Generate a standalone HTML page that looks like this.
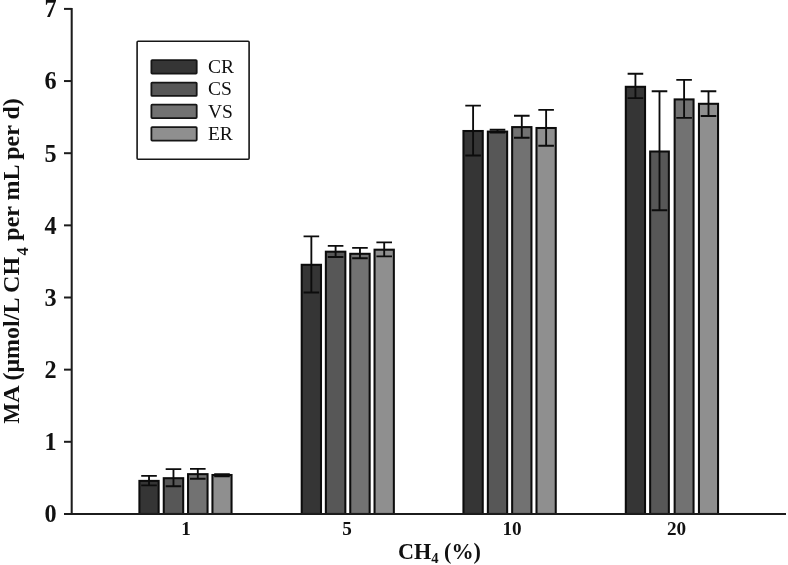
<!DOCTYPE html>
<html lang="en"><head><meta charset="utf-8"><title>MA vs CH4</title>
<style>html,body{margin:0;padding:0;background:#fff;}body{width:788px;height:565px;overflow:hidden;}svg{display:block;filter:grayscale(1) blur(0.45px);}text{font-family:"Liberation Serif", "DejaVu Serif", serif;fill:#111;}</style></head><body>
<svg width="788" height="565" viewBox="0 0 788 565">
<rect x="0" y="0" width="788" height="565" fill="#ffffff"/>
<rect x="139.40" y="480.90" width="19.25" height="33.05" fill="#353535" stroke="#0c0c0c" stroke-width="2.05"/>
<rect x="163.75" y="478.20" width="19.45" height="35.75" fill="#575757" stroke="#0c0c0c" stroke-width="2.05"/>
<rect x="188.05" y="474.15" width="19.50" height="39.80" fill="#727272" stroke="#0c0c0c" stroke-width="2.05"/>
<rect x="212.45" y="475.00" width="19.10" height="38.95" fill="#8f8f8f" stroke="#0c0c0c" stroke-width="2.05"/>
<rect x="301.71" y="264.80" width="19.29" height="249.15" fill="#353535" stroke="#0c0c0c" stroke-width="2.05"/>
<rect x="325.85" y="251.70" width="19.50" height="262.25" fill="#575757" stroke="#0c0c0c" stroke-width="2.05"/>
<rect x="350.25" y="253.80" width="19.40" height="260.15" fill="#727272" stroke="#0c0c0c" stroke-width="2.05"/>
<rect x="374.55" y="249.70" width="19.30" height="264.25" fill="#8f8f8f" stroke="#0c0c0c" stroke-width="2.05"/>
<rect x="463.45" y="131.00" width="19.30" height="382.95" fill="#353535" stroke="#0c0c0c" stroke-width="2.05"/>
<rect x="487.85" y="131.60" width="19.30" height="382.35" fill="#575757" stroke="#0c0c0c" stroke-width="2.05"/>
<rect x="512.15" y="127.10" width="19.30" height="386.85" fill="#727272" stroke="#0c0c0c" stroke-width="2.05"/>
<rect x="536.50" y="128.00" width="19.25" height="385.95" fill="#8f8f8f" stroke="#0c0c0c" stroke-width="2.05"/>
<rect x="625.80" y="86.80" width="19.25" height="427.15" fill="#353535" stroke="#0c0c0c" stroke-width="2.05"/>
<rect x="650.15" y="151.50" width="18.70" height="362.45" fill="#575757" stroke="#0c0c0c" stroke-width="2.05"/>
<rect x="674.65" y="99.40" width="18.90" height="414.55" fill="#727272" stroke="#0c0c0c" stroke-width="2.05"/>
<rect x="698.95" y="103.80" width="19.10" height="410.15" fill="#8f8f8f" stroke="#0c0c0c" stroke-width="2.05"/>
<path d="M141.22 475.90H156.83M141.22 485.30H156.83M149.03 475.90V485.30" stroke="#0c0c0c" stroke-width="1.85" fill="none"/>
<path d="M165.67 469.10H181.28M165.67 486.20H181.28M173.47 469.10V486.20" stroke="#0c0c0c" stroke-width="1.85" fill="none"/>
<path d="M190.00 468.80H205.60M190.00 478.70H205.60M197.80 468.80V478.70" stroke="#0c0c0c" stroke-width="1.85" fill="none"/>
<path d="M214.20 474.10H229.80M214.20 476.40H229.80M222.00 474.10V476.40" stroke="#0c0c0c" stroke-width="1.85" fill="none"/>
<path d="M303.56 236.30H319.16M303.56 292.50H319.16M311.36 236.30V292.50" stroke="#0c0c0c" stroke-width="1.85" fill="none"/>
<path d="M327.80 245.80H343.40M327.80 257.00H343.40M335.60 245.80V257.00" stroke="#0c0c0c" stroke-width="1.85" fill="none"/>
<path d="M352.15 247.90H367.75M352.15 258.20H367.75M359.95 247.90V258.20" stroke="#0c0c0c" stroke-width="1.85" fill="none"/>
<path d="M376.40 242.40H392.00M376.40 256.40H392.00M384.20 242.40V256.40" stroke="#0c0c0c" stroke-width="1.85" fill="none"/>
<path d="M465.30 105.60H480.90M465.30 155.50H480.90M473.10 105.60V155.50" stroke="#0c0c0c" stroke-width="1.85" fill="none"/>
<path d="M489.70 129.70H505.30M489.70 132.60H505.30M497.50 129.70V132.60" stroke="#0c0c0c" stroke-width="1.85" fill="none"/>
<path d="M514.00 115.70H529.60M514.00 137.70H529.60M521.80 115.70V137.70" stroke="#0c0c0c" stroke-width="1.85" fill="none"/>
<path d="M538.33 109.80H553.92M538.33 145.70H553.92M546.12 109.80V145.70" stroke="#0c0c0c" stroke-width="1.85" fill="none"/>
<path d="M627.62 73.75H643.22M627.62 98.10H643.22M635.42 73.75V98.10" stroke="#0c0c0c" stroke-width="1.85" fill="none"/>
<path d="M651.70 91.20H667.30M651.70 210.25H667.30M659.50 91.20V210.25" stroke="#0c0c0c" stroke-width="1.85" fill="none"/>
<path d="M676.30 79.80H691.90M676.30 117.80H691.90M684.10 79.80V117.80" stroke="#0c0c0c" stroke-width="1.85" fill="none"/>
<path d="M700.70 91.20H716.30M700.70 116.00H716.30M708.50 91.20V116.00" stroke="#0c0c0c" stroke-width="1.85" fill="none"/>
<path d="M71.70 8.1V514.70" stroke="#1c1c1c" stroke-width="2.05" fill="none"/>
<path d="M64.0 513.95H786" stroke="#1c1c1c" stroke-width="2.05" fill="none"/>
<path d="M64.0 441.80H71.70" stroke="#1c1c1c" stroke-width="2.0" fill="none"/>
<path d="M64.0 369.65H71.70" stroke="#1c1c1c" stroke-width="2.0" fill="none"/>
<path d="M64.0 297.50H71.70" stroke="#1c1c1c" stroke-width="2.0" fill="none"/>
<path d="M64.0 225.35H71.70" stroke="#1c1c1c" stroke-width="2.0" fill="none"/>
<path d="M64.0 153.20H71.70" stroke="#1c1c1c" stroke-width="2.0" fill="none"/>
<path d="M64.0 81.05H71.70" stroke="#1c1c1c" stroke-width="2.0" fill="none"/>
<path d="M64.0 8.90H71.70" stroke="#1c1c1c" stroke-width="2.0" fill="none"/>
<text x="56.5" y="522.30" font-size="24.2" font-weight="bold" text-anchor="end">0</text>
<text x="56.5" y="450.15" font-size="24.2" font-weight="bold" text-anchor="end">1</text>
<text x="56.5" y="378.00" font-size="24.2" font-weight="bold" text-anchor="end">2</text>
<text x="56.5" y="305.85" font-size="24.2" font-weight="bold" text-anchor="end">3</text>
<text x="56.5" y="233.70" font-size="24.2" font-weight="bold" text-anchor="end">4</text>
<text x="56.5" y="161.55" font-size="24.2" font-weight="bold" text-anchor="end">5</text>
<text x="56.5" y="89.40" font-size="24.2" font-weight="bold" text-anchor="end">6</text>
<text x="56.5" y="17.25" font-size="24.2" font-weight="bold" text-anchor="end">7</text>
<text x="186.00" y="534.7" font-size="19.2" font-weight="bold" text-anchor="middle">1</text>
<text x="347.00" y="534.7" font-size="19.2" font-weight="bold" text-anchor="middle">5</text>
<text x="512.00" y="534.7" font-size="19.2" font-weight="bold" text-anchor="middle">10</text>
<text x="676.60" y="534.7" font-size="19.2" font-weight="bold" text-anchor="middle">20</text>
<text x="398.0" y="558.6" font-size="22.15" font-weight="bold">CH<tspan font-size="14.6" dy="4.6">4</tspan><tspan dy="-4.6"> (%)</tspan></text>
<text transform="translate(19.2 423.5) rotate(-90)" font-size="24.0" font-weight="bold"><tspan textLength="20.6" lengthAdjust="spacingAndGlyphs">M</tspan><tspan textLength="16.4" lengthAdjust="spacingAndGlyphs">A</tspan> (μmol/L CH<tspan font-size="16.5" dx="1.3" dy="8.4">4</tspan><tspan dy="-8.4" dx="0.7"> per mL per d)</tspan></text>
<rect x="137.1" y="41.3" width="112.0" height="117.9" rx="1" fill="#fff" stroke="#161616" stroke-width="1.6"/>
<rect x="151.40" y="60.05" width="45.30" height="13.50" rx="0.8" fill="#353535" stroke="#161616" stroke-width="1.8"/>
<text x="207.9" y="72.90" font-size="19.5">CR</text>
<rect x="151.40" y="82.55" width="45.30" height="13.40" rx="0.8" fill="#575757" stroke="#161616" stroke-width="1.8"/>
<text x="207.9" y="95.30" font-size="19.5">CS</text>
<rect x="151.40" y="104.65" width="45.30" height="13.40" rx="0.8" fill="#727272" stroke="#161616" stroke-width="1.8"/>
<text x="207.9" y="117.80" font-size="19.5">VS</text>
<rect x="151.40" y="127.05" width="45.30" height="13.50" rx="0.8" fill="#8f8f8f" stroke="#161616" stroke-width="1.8"/>
<text x="207.9" y="140.30" font-size="19.5">ER</text>
</svg></body></html>
